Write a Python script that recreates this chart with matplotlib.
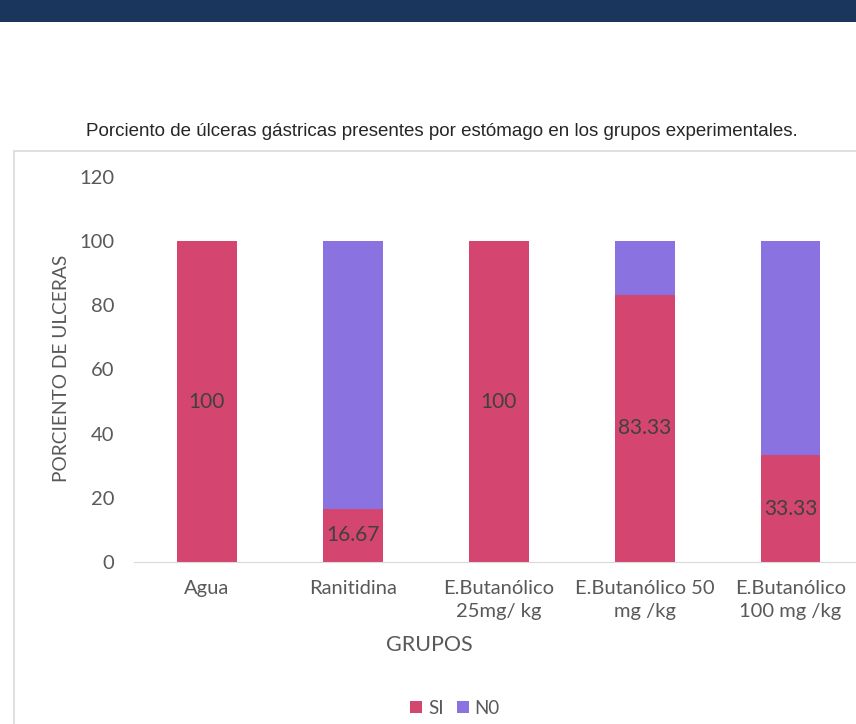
import matplotlib
matplotlib.use('Agg')
import matplotlib.pyplot as plt
from matplotlib.patches import Rectangle
import numpy as np

plt.rcParams['font.family'] = ['Lato', 'DejaVu Sans']

# datos
grupos = ['Agua', 'Ranitidina', 'E.Butanólico\n25mg/ kg',
          'E.Butanólico 50\nmg /kg', 'E.Butanólico\n100 mg /kg']
si = [100, 16.67, 100, 83.33, 33.33]
no = [0, 83.33, 0, 16.67, 66.67]
si_labels = ['100', '16.67', '100', '83.33', '33.33']

c_si = '#D4466F'
c_no = '#8A72E0'
gris = '#595959'

fig = plt.figure(figsize=(8.56, 7.24), dpi=100)

# banda superior
fig.patches.append(Rectangle((0, 1 - 22 / 724), 1, 22 / 724, transform=fig.transFigure,
                             facecolor='#1B365D', edgecolor='none'))
# marco del grafico
fig.patches.append(Rectangle((14 / 856, -0.1), 2, 0.1 + 1 - 151 / 724, transform=fig.transFigure,
                             facecolor='none', edgecolor='#D9D9D9', linewidth=1.2))

ax = fig.add_axes([134 / 856, 162 / 724, 729.5 / 856, 385 / 724])
x = np.arange(len(grupos))
ax.bar(x, si, width=0.41, color=c_si, label='SI')
ax.bar(x, no, width=0.41, bottom=si, color=c_no, label='N0')

for xi, v, t in zip(x, si, si_labels):
    ax.text(xi, v / 2, t, ha='center', va='center', fontsize=15, color='#404040')

ax.set_xlim(-0.5, 4.5)
ax.set_ylim(0, 120)
ax.set_yticks(range(0, 121, 20))
ax.set_xticks(x)
ax.set_xticklabels(grupos, fontsize=14.5, color=gris, linespacing=1.45)
ax.tick_params(axis='y', length=0, pad=14, labelsize=14.5, labelcolor=gris)
ax.tick_params(axis='x', length=0, pad=13)
for s in ['top', 'right', 'left']:
    ax.spines[s].set_visible(False)
ax.spines['bottom'].set_color('#D9D9D9')
ax.spines['bottom'].set_clip_on(False)

fig.text(62 / 856, 1 - 368 / 724, 'PORCIENTO DE ULCERAS', rotation=90, ha='center', va='center',
         fontsize=13.8, color=gris)
fig.text(429 / 856, 1 - 645 / 724, 'GRUPOS', ha='center', va='center', fontsize=15.5, color=gris)
fig.text(442 / 856, 1 - 131 / 724,
         'Porciento de úlceras gástricas presentes por estómago en los grupos experimentales.',
         ha='center', va='center', fontsize=13.5, color='#262626',
         family=['Liberation Sans', 'DejaVu Sans'])

fig.legend(loc='center', bbox_to_anchor=(455 / 856, 1 - 708 / 724), ncol=2, frameon=False,
           handlelength=0.65, handleheight=0.65, handletextpad=0.3, columnspacing=0.7,
           prop={'size': 13.5}, labelcolor=gris)

fig.savefig('out.png', dpi=100)
